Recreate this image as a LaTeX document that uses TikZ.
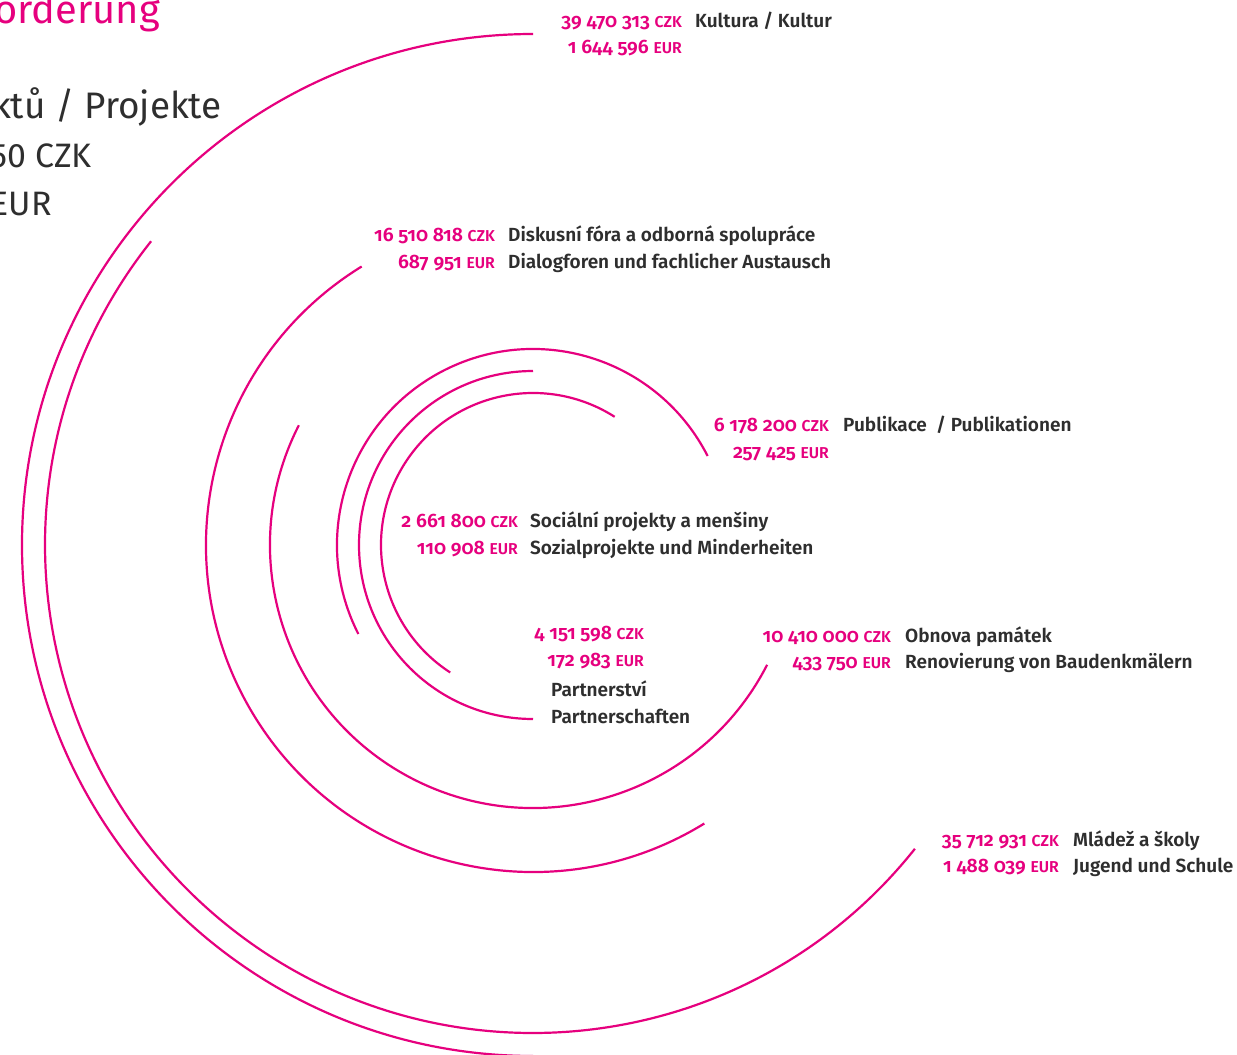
\documentclass[tikz,border=0pt]{standalone}
\usepackage{fontspec}
\setmainfont{Fira Sans}[Numbers=OldStyle]
\newfontfamily\numfont{Fira Sans SemiBold}[Numbers=OldStyle]
\newfontfamily\labfontfam{Fira Sans SemiBold}
\newfontfamily\headfontfam{Fira Sans}
\definecolor{fpink}{HTML}{E6007E}
\definecolor{fgray}{HTML}{2E2E2E}
\newcommand\amtfont{\numfont\fontsize{19.5}{22}\selectfont}
\newcommand\labfont{\labfontfam\fontsize{19.1}{22}\selectfont}
\newcommand\czkunit{{\fontsize{15.8}{15.8}\selectfont CZK}}
\newcommand\eurunit{{\fontsize{15.8}{15.8}\selectfont EUR}}
\begin{document}
\begin{tikzpicture}[x=1bp,y=1bp,
  arcline/.style={draw=fpink, line width=2.2bp},
  amt/.style={anchor=base east, inner sep=0pt, text=fpink, font=\amtfont},
  lab/.style={anchor=base west, inner sep=0pt, text=fgray, font=\labfont},
  head/.style={anchor=base east, inner sep=0pt, font=\headfontfam},
]
\clip (0,0) rectangle (1237,-1055);
\fill[white] (0,0) rectangle (1237,-1055);
\coordinate (C) at (533,-545);

% arcs
\draw[arcline] (C) ++(90:511) arc[start angle=90, end angle=270, radius=511];
\draw[arcline] (C) ++(141.5:488) arc[start angle=141.5, end angle=321.5, radius=488];
\draw[arcline] (C) ++(121.6:327) arc[start angle=121.6, end angle=301.6, radius=327];
\draw[arcline] (C) ++(152.9:263) arc[start angle=152.9, end angle=332.9, radius=263];
\draw[arcline] (C) ++(27:196) arc[start angle=27, end angle=207, radius=196];
\draw[arcline] (C) ++(90:174) arc[start angle=90, end angle=270, radius=174];
\draw[arcline] (C) ++(57.5:152) arc[start angle=57.5, end angle=237, radius=152];

% header (cut off at the left edge, as in the source)
\node[head, text=fpink, font=\headfontfam\fontsize{40}{44}\selectfont] (title) at (160,-23) {Förderung};
\node[head, text=fgray, font=\headfontfam\fontsize{37}{42}\selectfont] (hproj) at (222,-118) {projektů / Projekte};
\node[head, text=fgray, font=\headfontfam\fontsize{34}{40}\selectfont] (hczk) at (92,-167) {50 CZK};
\node[head, text=fgray, font=\headfontfam\fontsize{34}{40}\selectfont] (heur) at (52,-215) {EUR};

% Kultura
\node[amt] (kc) at (682,-27) {39 470 313 \czkunit};
\node[amt] (ke) at (682,-53) {1 644 596 \eurunit};
\node[lab] (kl) at (695,-27) {Kultura / Kultur};

% Diskusni
\node[amt] (dc) at (495,-241) {16 510 818 \czkunit};
\node[amt] (de) at (495,-268) {687 951 \eurunit};
\node[lab] (dl1) at (508,-241) {Diskusní fóra a odborná spolupráce};
\node[lab] (dl2) at (508,-268) {Dialogforen und fachlicher Austausch};

% Publikace
\node[amt] (pc) at (829,-431) {6 178 200 \czkunit};
\node[amt] (pe) at (829,-458) {257 425 \eurunit};
\node[lab] (pl) at (843,-431) {Publikace\ \ / Publikationen};

% Socialni
\node[amt] (sc) at (518,-527) {2 661 800 \czkunit};
\node[amt] (se) at (518,-554) {110 908 \eurunit};
\node[lab] (sl1) at (530,-527) {Sociální projekty a menšiny};
\node[lab] (sl2) at (530,-554) {Sozialprojekte und Minderheiten};

% Partnerstvi
\node[amt] (tc) at (644,-639) {4 151 598 \czkunit};
\node[amt] (te) at (644,-666) {172 983 \eurunit};
\node[lab] (tl1) at (551,-696) {Partnerství};
\node[lab] (tl2) at (551,-723) {Partnerschaften};

% Obnova
\node[amt] (oc) at (891,-642) {10 410 000 \czkunit};
\node[amt] (oe) at (891,-668) {433 750 \eurunit};
\node[lab] (ol1) at (905,-642) {Obnova památek};
\node[lab] (ol2) at (905,-668) {Renovierung von Baudenkmälern};

% Mladez
\node[amt] (mc) at (1059,-846) {35 712 931 \czkunit};
\node[amt] (me) at (1059,-872) {1 488 039 \eurunit};
\node[lab] (ml1) at (1073,-846) {Mládež a školy};
\node[lab] (ml2) at (1073,-872) {Jugend und Schule};
\end{tikzpicture}
\end{document}
